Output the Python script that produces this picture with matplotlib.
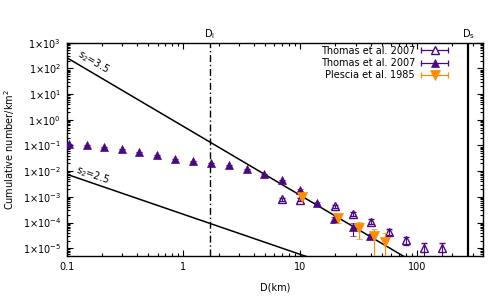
import numpy as np
import matplotlib
matplotlib.use("Agg")
import matplotlib.pyplot as plt
from matplotlib.lines import Line2D
from matplotlib.legend_handler import HandlerBase
from matplotlib.ticker import FixedLocator, FuncFormatter, LogLocator, NullFormatter

plt.rcParams['font.family'] = ['DejaVu Sans']
plt.rcParams['mathtext.fontset'] = 'dejavusans'
plt.rcParams['font.size'] = 7

# ---------------- data ----------------
# Thomas et al. 2007 (open triangles)
open_D = [7.04, 10.0, 20.0, 28.4, 40.4, 57.4, 81.0, 115.6, 163.0]
open_N = [8.0e-4, 7.7e-4, 4.3e-4, 2.2e-4, 1.1e-4, 4.4e-5, 2.1e-5, 1.0e-5, 1.05e-5]
open_err = [1.0e-4, 1.0e-4, 6e-5, 4e-5, 2.5e-5, 1.2e-5, 7e-6, 6e-6, 6e-6]

# Thomas et al. 2007 (filled triangles)
fill_D = [0.105, 0.149, 0.21, 0.296, 0.42, 0.597, 0.853, 1.21, 1.72,
          2.46, 3.49, 4.92, 6.93, 9.94, 14.0, 19.5, 28.2, 39.4]
fill_N = [0.11, 0.10, 0.087, 0.075, 0.055, 0.041, 0.030, 0.0245, 0.021,
          0.0167, 0.0117, 0.0079, 0.0046, 0.00187, 5.6e-4, 1.38e-4, 6.5e-5, 3.1e-5]
fill_err = [0, 0, 0, 0, 0, 0, 0, 0, 0,
            0, 0, 0, 0, 1.0e-4, 5e-5, 2.5e-5, 3.5e-5, 6e-6]

# Plescia et al. 1985 (orange inverted triangles)
ples_D = [10.4, 20.9, 31.8, 42.6, 53.3]
ples_N = [9.6e-4, 1.55e-4, 6.2e-5, 3.1e-5, 1.8e-5]
ples_err_lo = [1.5e-4, 6e-5, 4e-5, 3.0e-5, 1.75e-5]
ples_err_hi = [1.5e-4, 6e-5, 4e-5, 2.6e-5, 2.2e-5]

# reference power laws
s2_values = [3.5, 2.5]
line_N_at_01 = [263.0, 7.6e-3]
line_slope = [2.68, 1.56]

# characteristic diameters
D_l = 1.68
D_s = 274.0

purple = '#4b0882'
orange = '#ff8c00'

xmin, xmax = 0.1, 365.0
ymin, ymax = 5e-6, 1e3

fig = plt.figure(figsize=(5, 3), dpi=100)
ax = fig.add_axes([66.7 / 500, 44 / 300, 416 / 500, 213.3 / 300])
ax.set_xscale('log')
ax.set_yscale('log')
ax.set_xlim(xmin, xmax)
ax.set_ylim(ymin, ymax)

# power-law lines
Dl = np.logspace(np.log10(xmin), np.log10(xmax), 300)
label_pos = [(0.168, 176.0), (0.168, 6.8e-3)]
for s2, n0, k, (lx, ly) in zip(s2_values, line_N_at_01, line_slope, label_pos):
    ax.plot(Dl, n0 * (Dl / 0.1) ** (-k), color='k', lw=1.1, zorder=2)
    p1 = ax.transData.transform((0.1, n0))
    p2 = ax.transData.transform((1.0, n0 * 10 ** (-k)))
    ang = np.degrees(np.arctan2(p2[1] - p1[1], p2[0] - p1[0]))
    ax.text(lx, ly, r'$\mathregular{s_2}$=%.1f' % s2, rotation=ang,
            rotation_mode='anchor', ha='center', va='center', fontsize=7)

# vertical lines
ax.axvline(D_l, color='k', lw=1.0, ls=(0, (5, 2, 1, 2)), zorder=1)
ax.axvline(D_s, color='k', lw=1.6, zorder=1)
trans = ax.get_xaxis_transform()
ax.text(D_l, 1.01, r'D$_\mathregular{l}$', transform=trans, ha='center', va='bottom', fontsize=7)
ax.text(D_s, 1.01, r'D$_\mathregular{s}$', transform=trans, ha='center', va='bottom', fontsize=7)

# data
ax.errorbar(open_D, open_N, yerr=open_err, fmt='^', ms=6, mfc='none', mec=purple,
            mew=1.0, ecolor=purple, elinewidth=0.8, capsize=2.5, capthick=0.8, zorder=3)
ax.errorbar(fill_D, fill_N, yerr=fill_err, fmt='^', ms=6, mfc=purple, mec=purple,
            mew=0.5, ecolor=purple, elinewidth=0.8, capsize=2.5, capthick=0.8, zorder=4)
ax.errorbar(ples_D, ples_N, yerr=[ples_err_lo, ples_err_hi], fmt='v', ms=6.5, mfc=orange,
            mec=orange, mew=0.5, ecolor=orange, elinewidth=0.8, capsize=2.5, capthick=0.8, zorder=5)


class HandlerHErr(HandlerBase):
    def create_artists(self, legend, orig_handle, xdescent, ydescent, width, height,
                       fontsize, trans):
        y = height / 2 - ydescent
        x0, x1 = -xdescent, -xdescent + width
        c = orig_handle.get_color()
        line = Line2D([x0, x1], [y, y], color=c, lw=0.9)
        caps = Line2D([x0, x1], [y, y], ls='none', marker='|', ms=5, mew=0.9, color=c)
        mk = Line2D([(x0 + x1) / 2], [y], ls='none', marker=orig_handle.get_marker(),
                    ms=orig_handle.get_markersize(), mfc=orig_handle.get_markerfacecolor(),
                    mec=orig_handle.get_markeredgecolor(), mew=orig_handle.get_markeredgewidth())
        for a in (line, caps, mk):
            a.set_transform(trans)
        return [line, caps, mk]


handles = [
    Line2D([], [], color=purple, marker='^', ms=6, mfc='white', mec=purple, mew=1.0),
    Line2D([], [], color=purple, marker='^', ms=6, mfc=purple, mec=purple, mew=0.5),
    Line2D([], [], color=orange, marker='v', ms=6.5, mfc=orange, mec=orange, mew=0.5),
]
labels = ['Thomas et al. 2007', 'Thomas et al. 2007', 'Plescia et al. 1985']
ax.legend(handles, labels, handler_map={Line2D: HandlerHErr()}, loc='upper right',
          bbox_to_anchor=(0.917, 0.985), frameon=False, markerfirst=False,
          handlelength=2.8, handletextpad=0.6, labelspacing=0.22, borderpad=0,
          borderaxespad=0, fontsize=7)

# ticks
ax.xaxis.set_major_locator(FixedLocator([0.1, 1, 10, 100]))
ax.xaxis.set_major_formatter(FuncFormatter(lambda v, p: '%g' % v))
ax.xaxis.set_minor_locator(LogLocator(base=10, subs=np.arange(2, 10), numticks=100))
ax.xaxis.set_minor_formatter(NullFormatter())
ax.yaxis.set_major_locator(FixedLocator([10.0 ** e for e in range(-5, 4)]))
ax.yaxis.set_major_formatter(FuncFormatter(
    lambda v, p: '1\u00d710$^{\\mathregular{%d}}$' % int(round(np.log10(v)))))
ax.yaxis.set_minor_locator(LogLocator(base=10, subs=np.arange(2, 10), numticks=100))
ax.yaxis.set_minor_formatter(NullFormatter())
ax.tick_params(which='both', direction='in', top=True, right=True, width=0.8, labelsize=7)
ax.tick_params(which='major', length=4, pad=4)
ax.tick_params(which='minor', length=2)
for s in ax.spines.values():
    s.set_linewidth(1.0)

ax.set_xlabel('D(km)', fontsize=7, labelpad=8)
ax.set_ylabel('Cumulative number/km$^2$', fontsize=7)
ax.yaxis.set_label_coords(-(66.7 - 17.5) / 416, 0.5)

fig.savefig('out.png', dpi=100)
